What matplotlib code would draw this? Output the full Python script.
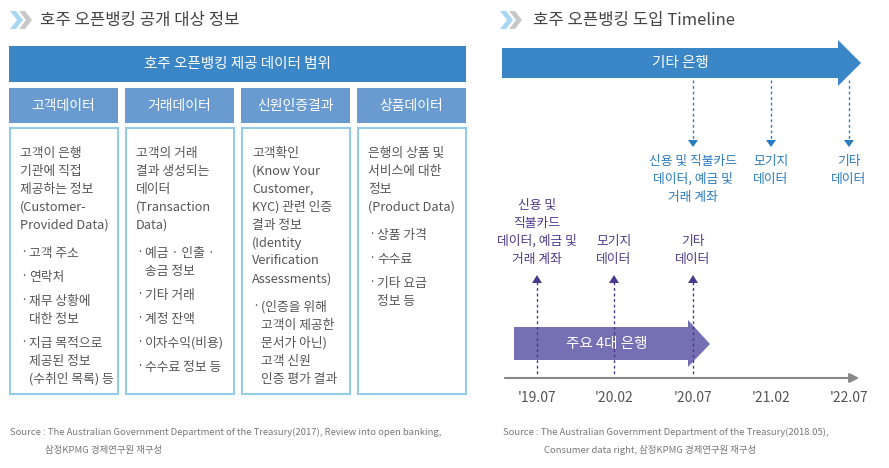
import matplotlib.pyplot as plt
from matplotlib.patches import Rectangle, Polygon

plt.rcParams['font.family'] = ['Noto Sans CJK KR', 'DejaVu Sans']

# left panel data
col_titles = ["고객데이터", "거래데이터", "신원인증결과", "상품데이터"]
col_lines = [
    ["고객이 은행", "기관에 직접", "제공하는 정보", "(Customer-", "Provided Data)"],
    ["고객의 거래", "결과 생성되는", "데이터", "(Transaction", "Data)"],
    ["고객확인", "(Know Your", "Customer,", "KYC) 관련 인증", "결과 정보", "(Identity",
     "Verification", "Assessments)"],
    ["은행의 상품 및", "서비스에 대한", "정보", "(Product Data)"],
]
col_bullets = [
    [["고객 주소"], ["연락처"], ["재무 상황에", "대한 정보"], ["지급 목적으로", "제공된 정보", "(수취인 목록) 등"]],
    [["예금 · 인출 ·", "송금 정보"], ["기타 거래"], ["계정 잔액"], ["이자수익(비용)"], ["수수료 정보 등"]],
    [["(인증을 위해", "고객이 제공한", "문서가 아닌)", "고객 신원", "인증 평가 결과"]],
    [["상품 가격"], ["수수료"], ["기타 요금", "정보 등"]],
]

# right panel data
periods = ["'19.07", "'20.02", "'20.07", "'21.02", "'22.07"]
big4_events = {0: ["신용 및", "직불카드", "데이터, 예금 및", "거래 계좌"],
               1: ["모기지", "데이터"], 2: ["기타", "데이터"]}
other_events = {2: ["신용 및 직불카드", "데이터, 예금 및", "거래 계좌"],
                3: ["모기지", "데이터"], 4: ["기타", "데이터"]}

BLUE = "#3b86c6"
MID = "#6a9bd0"
PURPLE = "#756fb3"
GRAY = "#555555"

fig = plt.figure(figsize=(8.89, 4.68), dpi=100)
ax = fig.add_axes([0, 0, 1, 1])
ax.set_xlim(0, 889)
ax.set_ylim(468, 0)
ax.axis("off")


def chevron(x, y):
    for dx, c in [(0, "#a9d8f2"), (9, "#c8c8c8")]:
        ax.add_patch(Polygon([(x + dx, y - 9), (x + dx + 6, y - 9), (x + dx + 13, y),
                              (x + dx + 6, y + 9), (x + dx, y + 9), (x + dx + 7, y)],
                             color=c, lw=0))


chevron(10, 20)
ax.text(40, 20, "호주 오픈뱅킹 공개 대상 정보", fontsize=12, color="#444444", va="center")
ax.add_patch(Rectangle((9, 46), 457, 36, color=BLUE, lw=0))
ax.text(237, 64, "호주 오픈뱅킹 제공 데이터 범위", fontsize=10.5, color="white",
        ha="center", va="center")

col_x = [9, 125, 241, 357]
for i, x0 in enumerate(col_x):
    ax.add_patch(Rectangle((x0, 88), 109, 35, color=MID, lw=0))
    ax.text(x0 + 54.5, 106, col_titles[i], fontsize=10, color="white", ha="center", va="center")
    ax.add_patch(Rectangle((x0 + 0.5, 128), 108, 266, fill=False, ec="#93cbea", lw=1.5))
    y = 153
    for line in col_lines[i]:
        ax.text(x0 + 11, y, line, fontsize=9.2, color=GRAY, va="center")
        y += 18
    y += 10
    for b in col_bullets[i]:
        for k, line in enumerate(b):
            ax.text(x0 + 11, y, "·" if k == 0 else "", fontsize=9.2, color=GRAY, va="center")
            ax.text(x0 + 20, y, line, fontsize=9.2, color=GRAY, va="center")
            y += 18
        y += 6

ax.text(10, 432, "Source : The Australian Government Department of the Treasury(2017), Review into open banking,",
        fontsize=6.8, color="#777777", va="center")
ax.text(45, 450, "삼정KPMG 경제연구원 재구성", fontsize=6.8, color="#777777", va="center")

# right panel
chevron(500, 20)
ax.text(533, 20, "호주 오픈뱅킹 도입 Timeline", fontsize=12, color="#444444", va="center")

px = [537, 614, 693, 771, 849]
ax.add_patch(Polygon([(502, 48), (838, 48), (838, 40), (861, 63), (838, 86), (838, 78), (502, 78)],
                     color=BLUE, lw=0))
ax.text(680, 63, "기타 은행", fontsize=10.5, color="white", ha="center", va="center")

ax.annotate("", xy=(862, 378), xytext=(502, 378),
            arrowprops=dict(arrowstyle="-|>", color="#888888", lw=1.5, mutation_scale=14))
for i, p in enumerate(periods):
    ax.text(px[i], 398, p, fontsize=10, color="#555555", ha="center", va="center")

for i, lines in other_events.items():
    ax.plot([px[i], px[i]], [80, 142], ls=(0, (2, 2)), color="#2a7bbf", lw=1)
    ax.add_patch(Polygon([(px[i] - 5, 140), (px[i] + 5, 140), (px[i], 147)], color="#2a7bbf", lw=0))
    for k, line in enumerate(lines):
        ax.text(px[i], 161 + 18 * k, line, fontsize=9.2, color="#2a7bbf", ha="center", va="center")

for i, lines in big4_events.items():
    ax.plot([px[i], px[i]], [282, 378], ls=(0, (2, 2)), color="#4b3a8c", lw=1)
    ax.add_patch(Polygon([(px[i] - 5, 283), (px[i] + 5, 283), (px[i], 275)], color="#4b3a8c", lw=0))
    base = 259 - 18 * (len(lines) - 1)
    for k, line in enumerate(lines):
        ax.text(px[i], base + 18 * k, line, fontsize=9.2, color="#4b3a8c", ha="center", va="center")

ax.add_patch(Polygon([(514, 327), (688, 327), (688, 320), (710, 344), (688, 367), (688, 360), (514, 360)],
                     color=PURPLE, lw=0))
ax.text(607, 344, "주요 4대 은행", fontsize=10.5, color="white", ha="center", va="center")

ax.text(503, 432, "Source : The Australian Government Department of the Treasury(2018.05),",
        fontsize=6.8, color="#777777", va="center")
ax.text(544, 450, "Consumer data right, 삼정KPMG 경제연구원 재구성", fontsize=6.8, color="#777777", va="center")

fig.savefig("out.png", dpi=100)
